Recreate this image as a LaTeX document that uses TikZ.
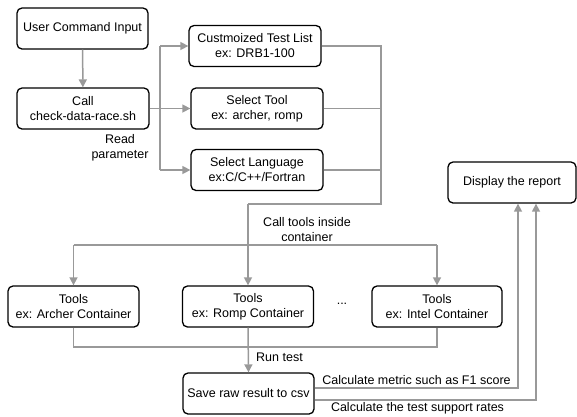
\documentclass[tikz,border=0pt]{standalone}
\usepackage{fontspec}
\setmainfont{Liberation Sans}
\usetikzlibrary{arrows.meta}
\definecolor{linkgray}{HTML}{999999}
\begin{document}
\begin{tikzpicture}[x=1pt,y=-1pt,
  every node/.style={font=\fontsize{12.5}{15}\selectfont, inner sep=0pt},
  box/.style={draw=black, line width=1.3pt, rounded corners=5pt, align=center,
              minimum height=41pt, fill=white},
  link/.style={draw=linkgray, line width=1.5pt},
  arr/.style={link, -{Triangle[width=8pt,length=8pt]}},
  lbl/.style={align=center}]
\useasboundingbox (0,0) rectangle (577,416);

% process boxes
\node[box, minimum width=131pt] (uci)   at (82.5,28.5)  {User Command Input};
\node[box, minimum width=132pt] (call)  at (83,108.5)   {Call\\check-data-race.sh};
\node[box, minimum width=132pt] (ctl)   at (255,46)     {Custmoized Test List\\ex: DRB1-100};
\node[box, minimum width=132pt] (st)    at (257,108.5)  {Select Tool\\ex: archer, romp};
\node[box, minimum width=132pt] (sl)    at (257,170)    {Select Language\\ex:C/C++/Fortran};
\node[box, minimum width=128pt] (disp)  at (512,182.5)  {Display the report};
\node[box, minimum width=131pt] (arch)  at (73.5,306.5) {Tools\\ex: Archer Container};
\node[box, minimum width=131pt] (romp)  at (248,306.5)  {Tools\\ex: Romp Container};
\node[box, minimum width=130pt] (intel) at (437,306.5)  {Tools\\ex: Intel Container};
\node[box, minimum width=131pt] (save)  at (248.5,393.5){Save raw result to csv};

% junction points
\coordinate (fork)  at (160,108.5);
\coordinate (forkT) at (160,46);
\coordinate (forkB) at (160,170);
\coordinate (busT)  at (381,46);
\coordinate (busM)  at (381,108.5);
\coordinate (busL)  at (381,170);
\coordinate (busB)  at (381,204);
\coordinate (romT)  at (248,204);
\coordinate (splL)  at (73.5,245);
\coordinate (splR)  at (437,245);
\coordinate (joinL) at (73.5,347);
\coordinate (joinR) at (437,347);

% input and parameter reading
\draw[arr] (uci) -- (call);
\draw[arr] (call.east) -- (st.west);
\draw[link] (forkT) -- (forkB);
\draw[arr] (forkT) -- (ctl.west);
\draw[arr] (forkB) -- (sl.west);

% collect options and dispatch to containers
\draw[link] (ctl.east) -- (busT) -- (busB) -- (romT);
\draw[link] (st.east) -- (busM);
\draw[link] (sl.east) -- (busL);
\draw[arr] (romT) -- (romp.north);
\draw[link] (splL) -- (splR);
\draw[arr] (splL) -- (arch.north);
\draw[arr] (splR) -- (intel.north);

% results
\draw[link] (arch.south) -- (joinL) -- (joinR) -- (intel.south);
\draw[arr] (romp.south) -- (save.north);
\draw[arr] ([yshift=5.5pt]save.east) -| ([xshift=6pt]disp.south);
\draw[arr] ([yshift=-6.5pt]save.east) -| ([xshift=24pt]disp.south);

% labels
\node[lbl] (rp)  at (120,148)  {Read\\parameter};
\node[lbl] (ctc) at (307,230)  {Call tools inside\\container};
\node[lbl] (dots) at (342,304) {...};
\node[lbl, anchor=west] (rt) at (256,357) {Run test};
\node[lbl] (cm)  at (416.5,380.5) {Calculate metric such as F1 score};
\node[lbl] (cs)  at (417.5,408)   {Calculate the test support rates};
\end{tikzpicture}
\end{document}
